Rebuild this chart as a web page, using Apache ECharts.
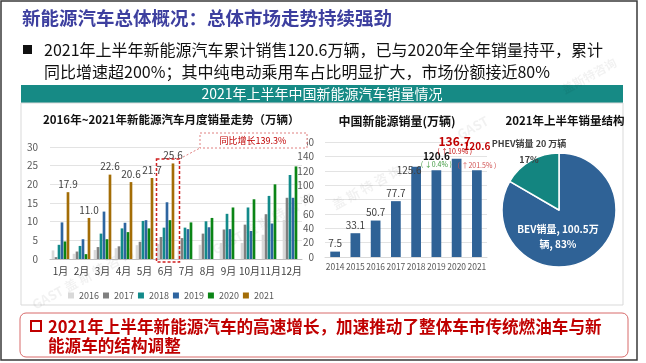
<!DOCTYPE html>
<html><head><meta charset="utf-8">
<script src="https://cdn.jsdelivr.net/npm/echarts@6/dist/echarts.min.js"></script>
<style>html,body{margin:0;padding:0;background:#fff}#c{width:646px;height:363px}</style>
</head><body><div id="c"></div>
<script>
const FONT = '"Noto Sans CJK SC", "Noto Sans", sans-serif';
// ---- Chart 1: monthly sales (万辆)
const months = ['1月','2月','3月','4月','5月','6月','7月','8月','9月','10月','11月','12月'];
const years = ['2016','2017','2018','2019','2020','2021'];
const s2016 = [2.3,1.4,2.4,2.9,3.7,4.0,3.4,3.8,4.3,4.3,6.5,10.5];
const s2017 = [0.5,2.0,3.2,3.4,4.6,5.9,5.6,6.8,7.9,9.2,12.0,16.4];
const s2018 = [3.8,3.5,6.8,8.2,10.2,8.4,8.4,10.1,12.1,13.8,16.9,22.5];
const s2019 = [9.8,5.3,12.7,9.7,10.4,15.2,8.0,8.5,8.0,7.5,9.5,16.4];
const s2020 = [4.7,1.3,5.3,7.2,8.2,10.4,9.8,11.0,13.8,16.0,20.0,24.8];
const s2021 = [17.9,11.0,22.6,20.6,21.7,25.6,null,null,null,null,null,null];
const monthlyTicks = [0,5,10,15,20,25,30];
const yoyNote = '同比增长139.3%';
// ---- Chart 2: annual sales (万辆)
const annualYears = ['2014','2015','2016','2017','2018','2019','2020','2021'];
const annualSales = [7.5,33.1,50.7,77.7,125.6,120.6,136.7,120.6];
const annualChange = {'2019':'( ↓0.4% )','2020':'( ↑10.9% )','2021':'( ↑201.5% )'};
const annualTicks = [0,20,40,60,80,100,120,140,160];
// ---- Chart 3: H1 2021 structure
const pieNames = ['BEV销量','PHEV销量'];
const pieValues = [100.5, 20];
const pieShares = ['83%','17%'];
// ---- Text
const slideTitle = '新能源汽车总体概况：总体市场走势持续强劲';
const bullet1 = '2021年上半年新能源汽车累计销售120.6万辆，已与2020年全年销量持平，累计';
const bullet2 = '同比增速超200%；其中纯电动乘用车占比明显扩大，市场份额接近80%';
const headerText = '2021年上半年中国新能源汽车销量情况';
const t1 = '2016年~2021年新能源汽车月度销量走势（万辆）';
const t2 = '中国新能源销量(万辆)';
const t3 = '2021年上半年销量结构';
const concl1 = '2021年上半年新能源汽车的高速增长，加速推动了整体车市传统燃油车与新';
const concl2 = '能源车的结构调整';

const yearColors = ['#d9d9d9','#808080','#128a8a','#2e65a0','#0b8516','#a36d06'];
const seriesData = [s2016,s2017,s2018,s2019,s2020,s2021];

const chart = echarts.init(document.getElementById('c'), null, {renderer:'canvas'});

const monthlySeries = years.map((y,i)=>({
  name:y, type:'bar', xAxisIndex:0, yAxisIndex:0, data:seriesData[i],
  itemStyle:{color:yearColors[i]}, barGap:'12%', barCategoryGap:'16%',
  label: i===5 ? {show:true, position:'top', distance:3, fontSize:10, color:'#404040', fontFamily:FONT,
    formatter:p=>p.value==null?'':p.value.toFixed(1)} : {show:false},
  z:3
}));

const annualData = annualSales.map((v,i)=>{
  const y = annualYears[i];
  const d = {value:v};
  if (y==='2018') d.label = {offset:[-7,11]};
  if (y==='2019') d.label = {formatter:'{a|'+v.toFixed(1)+'}\n{b|'+annualChange[y]+'}', offset:[0,2],
    rich:{a:{fontSize:10,fontWeight:'bold',color:'#111',fontFamily:FONT,lineHeight:9},b:{fontSize:7,color:'#3f9a3f',fontFamily:FONT,lineHeight:9}}};
  if (y==='2020') d.label = {formatter:'{a|'+v.toFixed(1)+'}\n{b|'+annualChange[y]+'}', offset:[-2,0],
    rich:{a:{fontSize:12,fontWeight:'bold',color:'#c00000',fontFamily:FONT,lineHeight:13},b:{fontSize:7,color:'#c00000',fontFamily:FONT,lineHeight:8}}};
  if (y==='2021') d.label = {formatter:'{a|'+v.toFixed(1)+'}\n\n{b|'+annualChange[y]+'}', offset:[0,2],
    rich:{a:{fontSize:10,fontWeight:'bold',color:'#c00000',fontFamily:FONT,lineHeight:10},b:{fontSize:7,color:'#d05050',fontFamily:FONT,lineHeight:8}}};
  return d;
});

const wm = (x,y,rot,txt,size)=>({type:'text', x, y, rotation:rot, z:1, silent:true,
  style:{text:txt, fill:'rgba(0,0,0,0.055)', font:'bold '+size+'px '+FONT}});

const option = {
  animation:false,
  textStyle:{fontFamily:FONT},
  title:[
    {text:t1, left:43, top:114, textStyle:{fontSize:11.5, fontWeight:'bold', color:'#111', fontFamily:FONT}, padding:0},
    {text:t2, left:397, top:115, textAlign:'center', textStyle:{fontSize:12, fontWeight:'bold', color:'#111', fontFamily:FONT}, padding:0},
    {text:t3, left:565, top:115, textAlign:'center', textStyle:{fontSize:11.5, fontWeight:'bold', color:'#111', fontFamily:FONT}, padding:0}
  ],
  legend:{data:years, left:68, top:291, itemWidth:6, itemHeight:6, itemGap:4, icon:'rect',
    textStyle:{fontSize:9, color:'#595959', fontFamily:FONT}, padding:0},
  grid:[
    {left:50, top:147, width:252, height:112},
    {left:325, top:142, width:162, height:115}
  ],
  xAxis:[
    {type:'category', gridIndex:0, data:months, axisTick:{show:false},
      axisLine:{lineStyle:{color:'#bfbfbf'}}, axisLabel:{fontSize:10, color:'#404040', margin:7, interval:0}},
    {type:'category', gridIndex:1, data:annualYears, axisTick:{show:false},
      axisLine:{lineStyle:{color:'#d9d9d9'}}, axisLabel:{fontSize:8.5, color:'#595959', margin:6, interval:0}}
  ],
  yAxis:[
    {type:'value', gridIndex:0, min:monthlyTicks[0], max:monthlyTicks[monthlyTicks.length-1], interval:5,
      axisLine:{show:false}, axisTick:{show:false}, splitLine:{lineStyle:{color:'#e3e3e3'}},
      axisLabel:{fontSize:10, color:'#595959', margin:12}},
    {type:'value', gridIndex:1, min:annualTicks[0], max:annualTicks[annualTicks.length-1], interval:20,
      axisLine:{show:false}, axisTick:{show:false}, splitLine:{lineStyle:{color:'#e3e3e3'}},
      axisLabel:{fontSize:10, color:'#595959', margin:11}}
  ],
  series:[
    ...monthlySeries,
    {type:'bar', xAxisIndex:1, yAxisIndex:1, data:annualData, barWidth:'48%',
      itemStyle:{color:'#2f6296'},
      label:{show:true, position:'top', distance:3, fontSize:10, color:'#404040', fontFamily:FONT}},
    {type:'pie', center:[559,210], radius:57, startAngle:90, clockwise:true,
      data:pieNames.map((n,i)=>({name:n, value:pieValues[i]})),
      itemStyle:{borderColor:'#fff', borderWidth:1.5},
      color:['#2f6296','#138580'],
      label:{position:'inside', fontFamily:FONT, fontWeight:'bold', fontSize:10, lineHeight:15,
        formatter:p=> p.dataIndex===0 ? p.name+', '+p.value+'万\n辆, '+pieShares[0] : p.name+' '+p.value+' 万辆\n'+pieShares[1],
        color:'#fff'},
      labelLayout:p=> p.dataIndex===0 ? {x:558, y:237, align:'center', verticalAlign:'middle'}
                                      : {x:529, y:152, align:'center', verticalAlign:'middle'},
      emphasis:{disabled:true}
    }
  ],
  graphic:[]
};
// PHEV label dark and a bit smaller
option.series[option.series.length-1].data[1].label = {color:'#404040', fontSize:9, lineHeight:16};

chart.setOption(option);

// Annotation positions from scales
const jb = chart.convertToPixel({xAxisIndex:0, yAxisIndex:0}, ['6月', 26.8]);
const j0 = chart.convertToPixel({xAxisIndex:0, yAxisIndex:0}, ['6月', 0]);
const bx0 = jb[0]-9, bx1 = jb[0]+14;
const g = [
  {type:'rect', z:-10, shape:{x:1,y:1,width:636,height:359}, style:{fill:'#fff', stroke:'#3a3a3a', lineWidth:1.5}},
  {type:'text', x:22, y:18, style:{text:slideTitle, fill:'#3d3f9f', font:'bold 18.5px '+FONT, verticalAlign:'middle'}},
  {type:'rect', shape:{x:23,y:45,width:9,height:9}, style:{fill:'#111'}},
  {type:'text', x:44, y:50, style:{text:bullet1, fill:'#111', font:'16px '+FONT, verticalAlign:'middle'}},
  {type:'text', x:44, y:72, style:{text:bullet2, fill:'#111', font:'16px '+FONT, verticalAlign:'middle'}},
  {type:'rect', z:-5, shape:{x:21,y:85,width:602,height:18}, style:{fill:'#168a85'}},
  {type:'text', x:322, y:94, style:{text:headerText, fill:'#fff', font:'14px '+FONT, align:'center', verticalAlign:'middle'}},
  {type:'rect', z:-5, shape:{x:21,y:103,width:602,height:202}, style:{fill:'none', stroke:'#d9d9d9', lineWidth:1}},
  {type:'rect', z:-5, shape:{x:20,y:313,width:608,height:44,r:6}, style:{fill:'#fff', stroke:'#d86a6a', lineWidth:1}},
  {type:'rect', shape:{x:31,y:321,width:10,height:10}, style:{fill:'none', stroke:'#c00000', lineWidth:2}},
  {type:'text', x:48, y:327, style:{text:concl1, fill:'#c00000', font:'bold 16.6px '+FONT, verticalAlign:'middle'}},
  {type:'text', x:48, y:346, style:{text:concl2, fill:'#c00000', font:'bold 16.6px '+FONT, verticalAlign:'middle'}},
  // June highlight & callout
  {type:'rect', z:10, shape:{x:bx0, y:jb[1], width:bx1-bx0, height:j0[1]-jb[1]+3},
    style:{fill:'none', stroke:'#d02020', lineWidth:1.5, lineDash:[3,2]}},
  {type:'line', z:10, shape:{x1:bx1, y1:jb[1], x2:200, y2:148}, style:{stroke:'#e08080', lineWidth:1, lineDash:[2,2]}},
  {type:'rect', z:10, shape:{x:200, y:133, width:107, height:15}, style:{fill:'#fff', stroke:'#e08080', lineWidth:1, lineDash:[2,2]}},
  {type:'text', z:11, x:253, y:141, style:{text:yoyNote, fill:'#c00000', font:'9px '+FONT, align:'center', verticalAlign:'middle'}},
  // watermarks
  wm(30,300,0.5,'GAST 盖 斯 特 咨 询',13),
  wm(210,245,0.5,'GAST 盖 斯 特 咨 询',13),
  wm(330,200,0.5,'盖 斯 特 咨 询',13),
  wm(455,130,0.5,'GAST',13),
  wm(560,85,0.5,'盖斯特咨询',12)
];
chart.setOption({graphic:g});
</script></body></html>
